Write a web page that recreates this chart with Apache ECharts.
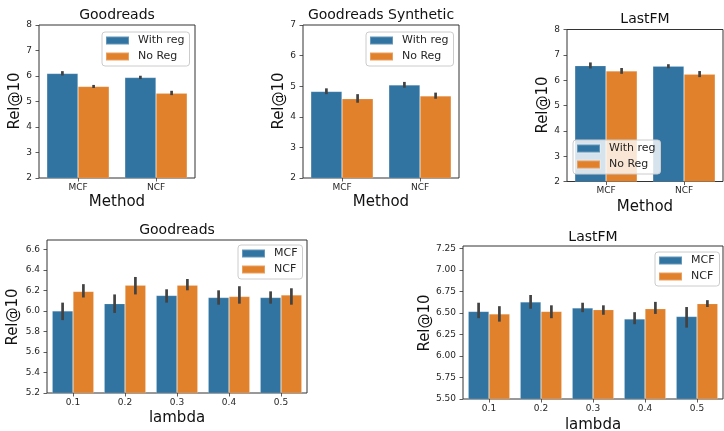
<!DOCTYPE html>
<html>
<head>
<meta charset="utf-8">
<script src="https://cdn.jsdelivr.net/npm/echarts@6/dist/echarts.min.js"></script>
<style>html,body{margin:0;padding:0;background:#fff;}#c{width:724px;height:431px;}</style>
</head>
<body>
<div id="c"></div>
<script>
// ---------- data ----------
const methodCats = ['MCF', 'NCF'];
const lambdaCats = ['0.1', '0.2', '0.3', '0.4', '0.5'];

// Goodreads (top-left)
const grWith = [6.10, 5.94];
const grWithLo = [6.02, 5.88];
const grWithHi = [6.19, 6.01];
const grNo = [5.59, 5.33];
const grNoLo = [5.53, 5.25];
const grNoHi = [5.65, 5.42];

// Goodreads Synthetic (top-middle)
const gsWith = [4.83, 5.04];
const gsWithLo = [4.74, 4.95];
const gsWithHi = [4.93, 5.14];
const gsNo = [4.59, 4.68];
const gsNoLo = [4.46, 4.59];
const gsNoHi = [4.74, 4.79];

// LastFM (top-right)
const lfWith = [6.57, 6.55];
const lfWithLo = [6.46, 6.47];
const lfWithHi = [6.70, 6.63];
const lfNo = [6.36, 6.24];
const lfNoLo = [6.25, 6.12];
const lfNoHi = [6.48, 6.36];

// Goodreads vs lambda (bottom-left)
const grlMCF = [6.00, 6.07, 6.15, 6.13, 6.13];
const grlMCFLo = [5.91, 5.98, 6.08, 6.06, 6.07];
const grlMCFHi = [6.08, 6.16, 6.21, 6.20, 6.19];
const grlNCF = [6.19, 6.25, 6.25, 6.14, 6.155];
const grlNCFLo = [6.13, 6.16, 6.20, 6.07, 6.06];
const grlNCFHi = [6.26, 6.33, 6.31, 6.24, 6.22];

// LastFM vs lambda (bottom-right)
const lflMCF = [6.52, 6.63, 6.56, 6.43, 6.46];
const lflMCFLo = [6.44, 6.55, 6.51, 6.37, 6.33];
const lflMCFHi = [6.62, 6.71, 6.62, 6.51, 6.57];
const lflNCF = [6.49, 6.52, 6.54, 6.55, 6.61];
const lflNCFLo = [6.40, 6.44, 6.48, 6.49, 6.57];
const lflNCFHi = [6.58, 6.59, 6.59, 6.63, 6.65];

// tick labels
const ticksTop8 = [2, 3, 4, 5, 6, 7, 8];
const ticksTop7 = [2, 3, 4, 5, 6, 7];
const ticksGrLambda = [5.2, 5.4, 5.6, 5.8, 6.0, 6.2, 6.4, 6.6];
const ticksLfLambda = [5.5, 5.75, 6.0, 6.25, 6.5, 6.75, 7.0, 7.25];

// ---------- styling ----------
const BLUE = '#3274A1', ORANGE = '#E1812C', ERR = '#424242';
const FONT = 'DejaVu Sans';
const FRAME = '#333333';

const chart = echarts.init(document.getElementById('c'), null, {renderer: 'canvas'});

const grids = [
  {left: 39, top: 25, width: 156, height: 153},
  {left: 303, top: 25, width: 156, height: 153},
  {left: 567, top: 29.5, width: 156, height: 152},
  {left: 47, top: 240, width: 260, height: 153},
  {left: 463, top: 246, width: 260, height: 153}
].map(g => Object.assign({show: true, borderColor: FRAME, borderWidth: 1, backgroundColor: 'transparent', containLabel: false}, g));

function xAx(gi, cats) {
  return {
    type: 'category', gridIndex: gi, data: cats,
    axisLine: {show: false},
    axisTick: {show: true, alignWithLabel: true, length: 3.5, lineStyle: {color: FRAME, width: 0.8}},
    axisLabel: {fontFamily: FONT, fontSize: 9, color: '#262626', margin: 5},
    splitLine: {show: false}
  };
}
function yAx(gi, min, max, ticks, decimals) {
  return {
    type: 'value', gridIndex: gi, min: min, max: max,
    interval: ticks[1] - ticks[0],
    axisLine: {show: false},
    axisTick: {show: true, length: 3.5, lineStyle: {color: FRAME, width: 0.8}, customValues: ticks},
    axisLabel: {fontFamily: FONT, fontSize: 9, color: '#262626', margin: 7, customValues: ticks,
      formatter: v => Number(v).toFixed(decimals)},
    splitLine: {show: false}
  };
}

const xAxes = [xAx(0, methodCats), xAx(1, methodCats), xAx(2, methodCats), xAx(3, lambdaCats), xAx(4, lambdaCats)];
const yAxes = [
  yAx(0, 2, 8, ticksTop8, 0),
  yAx(1, 2, 7, ticksTop7, 0),
  yAx(2, 2, 8, ticksTop8, 0),
  yAx(3, 5.2, 6.69, ticksGrLambda, 1),
  yAx(4, 5.5, 7.28, ticksLfLambda, 2)
];

function bar(name, gi, vals, color) {
  return {
    type: 'bar', name: name, xAxisIndex: gi, yAxisIndex: gi, data: vals,
    barGap: '0%', barCategoryGap: '20%', clip: true,
    itemStyle: {color: color, borderColor: 'rgba(255,255,255,0.25)', borderWidth: 0.6},
    emphasis: {disabled: true}, z: 2
  };
}
function err(gi, lo, hi, sign, id) {
  const data = lo.map((l, i) => [i, l, hi[i]]);
  return {
    type: 'custom', name: id, xAxisIndex: gi, yAxisIndex: gi, data: data,
    encode: {x: 0, y: [1, 2]}, z: 5, silent: true,
    renderItem: (params, api) => {
      const i = api.value(0);
      const band = api.size([1, 0])[0];
      const p1 = api.coord([i, api.value(1)]);
      const p2 = api.coord([i, api.value(2)]);
      const dx = sign * band * 0.2;
      return {type: 'line', shape: {x1: p1[0] + dx, y1: p1[1], x2: p2[0] + dx, y2: p2[1]},
        style: {stroke: ERR, lineWidth: 2.7}};
    }
  };
}

const series = [
  bar('With reg', 0, grWith, BLUE), bar('No Reg', 0, grNo, ORANGE),
  err(0, grWithLo, grWithHi, -1, 'e0a'), err(0, grNoLo, grNoHi, 1, 'e0b'),
  bar('With reg', 1, gsWith, BLUE), bar('No Reg', 1, gsNo, ORANGE),
  err(1, gsWithLo, gsWithHi, -1, 'e1a'), err(1, gsNoLo, gsNoHi, 1, 'e1b'),
  bar('With reg', 2, lfWith, BLUE), bar('No Reg', 2, lfNo, ORANGE),
  err(2, lfWithLo, lfWithHi, -1, 'e2a'), err(2, lfNoLo, lfNoHi, 1, 'e2b'),
  bar('MCF', 3, grlMCF, BLUE), bar('NCF', 3, grlNCF, ORANGE),
  err(3, grlMCFLo, grlMCFHi, -1, 'e3a'), err(3, grlNCFLo, grlNCFHi, 1, 'e3b'),
  bar('MCF', 4, lflMCF, BLUE), bar('NCF', 4, lflNCF, ORANGE),
  err(4, lflMCFLo, lflMCFHi, -1, 'e4a'), err(4, lflNCFLo, lflNCFHi, 1, 'e4b')
];

function legend(names, left, top) {
  return {
    data: names, left: left, top: top, orient: 'vertical',
    icon: 'rect', itemWidth: 23, itemHeight: 8, itemGap: 5,
    padding: [3, 5, 4, 3],
    backgroundColor: 'rgba(255,255,255,0.8)', borderColor: '#cccccc', borderWidth: 1, borderRadius: 3,
    textStyle: {fontFamily: FONT, fontSize: 11, color: '#262626', lineHeight: 11, padding: [0, 0, 0, 4]},
    selectedMode: false, z: 10
  };
}
const legends = [
  legend(['With reg', 'No Reg'], 102, 32),
  legend(['With reg', 'No Reg'], 366, 32),
  legend(['With reg', 'No Reg'], 573, 140),
  legend(['MCF', 'NCF'], 238, 245),
  legend(['MCF', 'NCF'], 655, 252)
];

function txt(s, x, y, size, rot) {
  return {
    type: 'text', x: x, y: y, rotation: rot ? Math.PI / 2 : 0, silent: true, z: 20,
    style: {text: s, x: 0, y: 0, align: 'center', verticalAlign: 'middle',
      fontFamily: FONT, fontSize: size, fill: '#111'}
  };
}
const graphics = [
  txt('Goodreads', 117, 15, 14), txt('Goodreads Synthetic', 381, 15, 14), txt('LastFM', 645, 19, 14),
  txt('Goodreads', 177, 230, 14), txt('LastFM', 593, 237, 14),
  txt('Rel@10', 15, 101, 15, true), txt('Rel@10', 279, 101, 15, true), txt('Rel@10', 543, 105, 15, true),
  txt('Rel@10', 13, 317, 15, true), txt('Rel@10', 425, 323, 15, true),
  txt('Method', 117, 202, 15), txt('Method', 381, 202, 15), txt('Method', 645, 207, 15),
  txt('lambda', 177, 418, 15), txt('lambda', 593, 425, 15)
];

chart.setOption({
  animation: false,
  backgroundColor: '#ffffff',
  grid: grids,
  xAxis: xAxes,
  yAxis: yAxes,
  legend: legends,
  series: series,
  graphic: graphics
});
</script>
</body>
</html>
